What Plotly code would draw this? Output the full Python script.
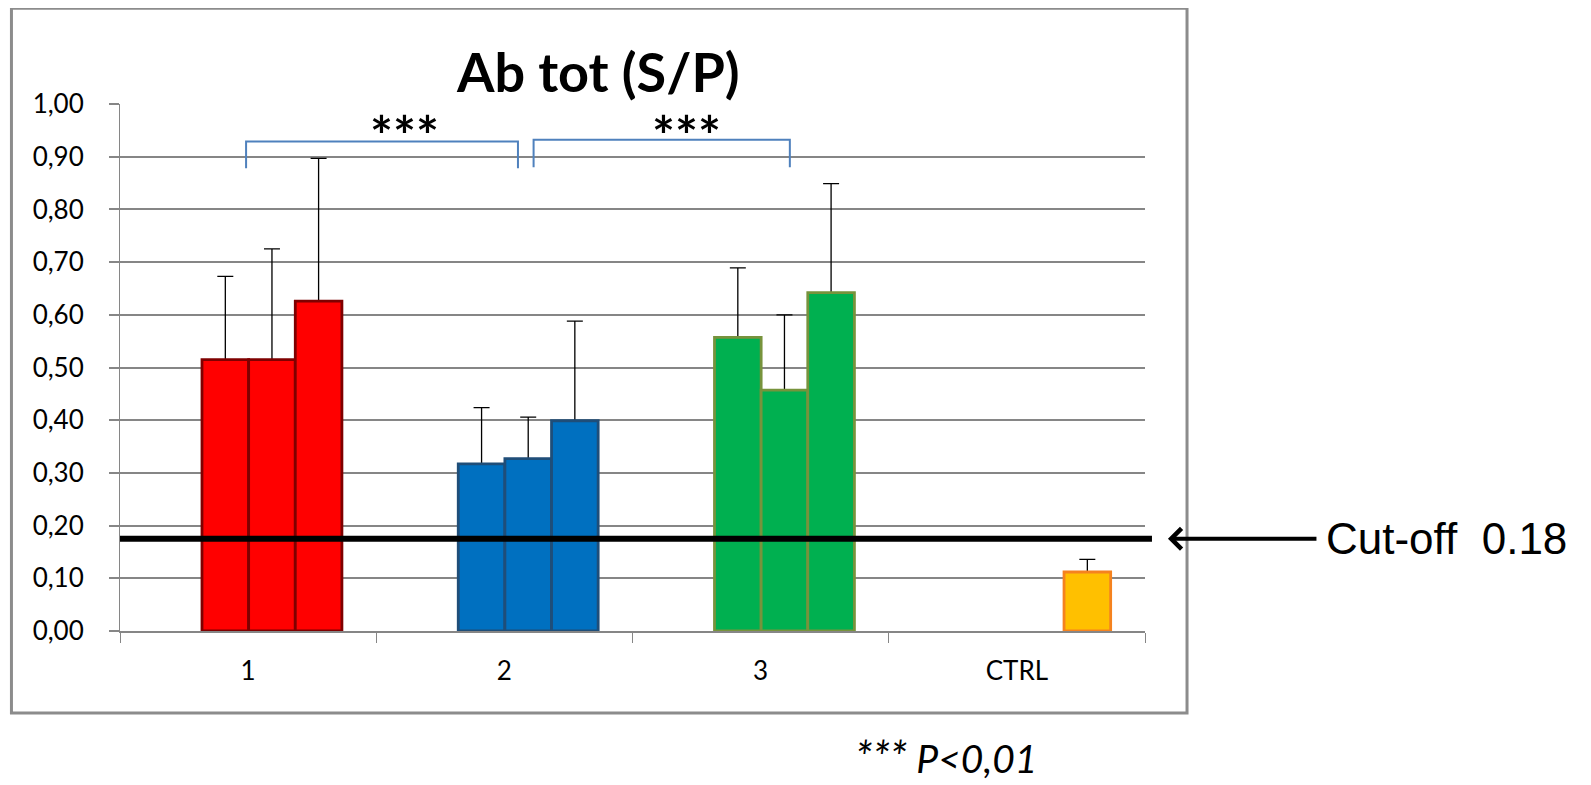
import plotly.graph_objects as go

# ---- data ----
categories = ["1", "2", "3", "CTRL"]
series_a = [0.515, 0.317, 0.557, None]
series_b = [0.515, 0.327, 0.457, None]
series_c = [0.626, 0.399, 0.642, 0.112]
err_a = [0.158, 0.107, 0.132, None]
err_b = [0.210, 0.079, 0.143, None]
err_c = [0.271, 0.189, 0.207, 0.024]
y_ticks = [0.0, 0.1, 0.2, 0.3, 0.4, 0.5, 0.6, 0.7, 0.8, 0.9, 1.0]
cutoff_label = "0.18"
cutoff_level = 0.175
title_text = "Ab tot (S/P)"
sig_text = "***"
footnote_stars = "***"
footnote_text = "P<0,01"

# ---- styles ----
fill_colors = ["#FF0000", "#0070C0", "#00B050", "#FFC000"]
line_colors = ["#7F0000", "#1F4E79", "#77933C", "#F5821F"]
grid_col = "#868686"
bar_w = 0.182
offsets = [-0.18, 0.002, 0.184]
all_series = [series_a, series_b, series_c]
all_errs = [err_a, err_b, err_c]

fig = go.Figure()
# error bars first (on transparent bars), so the visible bars hide the lower cap
for vals, errs, off in zip(all_series, all_errs, offsets):
    fig.add_trace(go.Bar(
        x=categories, y=vals, width=bar_w, offset=off,
        marker=dict(color="rgba(0,0,0,0)", line=dict(width=0)),
        error_y=dict(type="data", symmetric=False, array=errs,
                     arrayminus=[0 if e is not None else None for e in errs],
                     color="black", thickness=1.3, width=8),
        hoverinfo="skip",
    ))
for vals, off in zip(all_series, offsets):
    fig.add_trace(go.Bar(
        x=categories, y=vals, width=bar_w, offset=off,
        marker=dict(color=fill_colors, line=dict(color=line_colors, width=2.8)),
        hoverinfo="skip",
    ))

shapes = []
# outer chart frame
shapes.append(dict(type="rect", xref="paper", yref="paper",
                   x0=-0.1059, x1=1.041, y0=-0.1556, y1=1.1816,
                   line=dict(color="#8C8C8C", width=3), fillcolor="rgba(0,0,0,0)", layer="below"))
# cut-off line
shapes.append(dict(type="line", xref="paper", yref="y", x0=0, x1=1.0068,
                   y0=cutoff_level, y1=cutoff_level, line=dict(color="black", width=6)))
# significance brackets (category-index coordinates)
br_col = "#4F81BD"
for x0, x1, ytop, ybot in [(-0.008, 1.053, 0.929, 0.878), (1.114, 2.114, 0.932, 0.880)]:
    shapes.append(dict(type="path", xref="x", yref="y",
                       path=f"M {x0},{ybot} L {x0},{ytop} L {x1},{ytop} L {x1},{ybot}",
                       line=dict(color=br_col, width=2)))

annotations = [
    dict(text=f"<b>{title_text}</b>", xref="paper", yref="paper", x=0.4663, y=1.0626,
         xanchor="center", yanchor="middle", showarrow=False,
         font=dict(family="Lato", size=54, color="black")),
    dict(text=f"<b>{sig_text}</b>", xref="x", yref="y", x=0.612, y=0.943, xanchor="center",
         yanchor="middle", showarrow=False, font=dict(family="Lato", size=54, color="black")),
    dict(text=f"<b>{sig_text}</b>", xref="x", yref="y", x=1.71, y=0.943, xanchor="center",
         yanchor="middle", showarrow=False, font=dict(family="Lato", size=54, color="black")),
    # arrow toward the cut-off line
    dict(text="", xref="paper", yref="y", x=1.0224, y=cutoff_level, ax=150, ay=0,
         showarrow=True, arrowhead=4, arrowsize=1, arrowwidth=4, arrowcolor="black"),
    dict(text=f"Cut-off  {cutoff_label}", xref="paper", yref="y", x=1.1746, y=cutoff_level,
         xanchor="left", yanchor="middle", showarrow=False,
         font=dict(family="Liberation Sans", size=44, color="black")),
    dict(text=f"<i><span style='font-size:44px'>{footnote_stars}</span> {footnote_text}</i>",
         xref="paper", yref="paper", x=0.8054, y=-0.2372,
         xanchor="center", yanchor="middle", showarrow=False,
         font=dict(family="Lato", size=39, color="black")),
]

# the page adds an 8 px body margin, so the figure is 8 px smaller and shifted
fig.update_layout(
    width=1583, height=777,
    margin=dict(l=112, r=446, t=96, b=154),
    paper_bgcolor="white", plot_bgcolor="white",
    barmode="overlay", separators=", ", showlegend=False,
    font=dict(family="Lato", color="black"),
    shapes=shapes, annotations=annotations,
)
fig.update_yaxes(range=[0, 1], tickvals=y_ticks, tickformat=".2f",
                 showgrid=True, gridcolor=grid_col, gridwidth=1.5, zeroline=False,
                 showline=True, linecolor=grid_col, linewidth=1,
                 ticks="outside", ticklen=10, tickcolor=grid_col, tickwidth=1.5,
                 tickfont=dict(family="Lato", size=26, color="black"),
                 ticklabelstandoff=20)
fig.update_xaxes(type="category", categoryarray=categories, showgrid=False,
                 showline=True, linecolor=grid_col, linewidth=1.5,
                 ticks="outside", tickson="boundaries", ticklen=10, tickcolor=grid_col,
                 tickfont=dict(family="Lato", size=26, color="black"),
                 ticklabelstandoff=16)

fig.write_html("out.html")
